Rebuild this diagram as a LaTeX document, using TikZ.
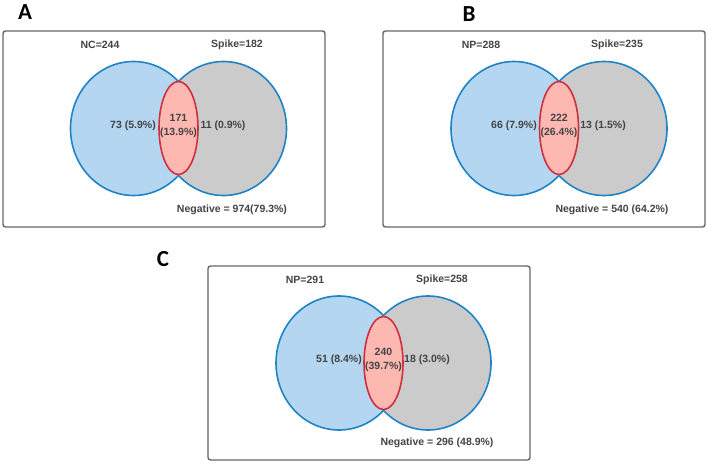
\documentclass[tikz,border=0pt]{standalone}
\usepackage{fontspec}
\setmainfont{Liberation Sans}
\newfontfamily\tagfont{Carlito}
\usetikzlibrary{shapes.geometric}

\definecolor{ncblue}{HTML}{B4D6F0}
\definecolor{ringblue}{HTML}{1F84C6}
\definecolor{spikegray}{HTML}{CBCBCB}
\definecolor{bothred}{HTML}{FDB8B2}
\definecolor{ringred}{HTML}{D02F3D}
\definecolor{boxgray}{HTML}{666666}
\definecolor{txtgray}{HTML}{444444}

\begin{document}
\begin{tikzpicture}[x=1pt,y=-1pt,
  panel/.style={draw=boxgray,line width=1.4pt,rounded corners=2.5pt},
  setA/.style={ellipse,fill=ncblue,draw=ringblue,line width=1.6pt,
    minimum width=126pt,minimum height=134pt,inner sep=0pt},
  setB/.style={setA,fill=spikegray},
  both/.style={ellipse,fill=bothred,draw=ringred,line width=1.6pt,
    minimum width=39pt,minimum height=93pt,inner sep=0pt},
  lbl/.style={font=\bfseries\fontsize{10.5}{14}\selectfont,text=txtgray,align=center,inner sep=1pt},
  tag/.style={font=\tagfont\bfseries\fontsize{23}{26}\selectfont,inner sep=0pt}]
  \useasboundingbox (0,0) rectangle (708,463);

  % panel A
  \node[tag] (tagA) at (25,12) {A};
  \begin{scope}[shift={(3,31)}]
    \draw[panel] (0,0) rectangle (322,196);
    \node[setA] (aLeft) at (130.5,97.5) {};
    \node[setB] (aRight) at (220.5,97.5) {};
    \node[both] (aBoth) at (175.5,97) {};
    \node[lbl] (aSetL) at (97,14) {NC=244};
    \node[lbl] (aSetR) at (234,14) {Spike=182};
    \node[lbl] (aOnlyL) at (130,95) {73 (5.9\%)};
    \node[lbl] (aMid) at (175.5,95) {171\\(13.9\%)};
    \node[lbl] (aOnlyR) at (220,95) {11 (0.9\%)};
    \node[lbl] (aNeg) at (229,179) {Negative = 974(79.3\%)};
  \end{scope}

  % panel B
  \node[tag] (tagB) at (469,14) {B};
  \begin{scope}[shift={(383,31)}]
    \draw[panel] (0,0) rectangle (322,196);
    \node[setA] (bLeft) at (131,97.5) {};
    \node[setB] (bRight) at (221,97.5) {};
    \node[both] (bBoth) at (176,97) {};
    \node[lbl] (bSetL) at (98,14) {NP=288};
    \node[lbl] (bSetR) at (234,14) {Spike=235};
    \node[lbl] (bOnlyL) at (131,95) {66 (7.9\%)};
    \node[lbl] (bMid) at (176,95) {222\\(26.4\%)};
    \node[lbl] (bOnlyR) at (220,95) {13 (1.5\%)};
    \node[lbl] (bNeg) at (229,179) {Negative = 540 (64.2\%)};
  \end{scope}

  % panel C
  \node[tag] (tagC) at (163,259) {C};
  \begin{scope}[shift={(208,266)}]
    \draw[panel] (0,0) rectangle (322,194);
    \node[setA] (cLeft) at (131,97) {};
    \node[setB] (cRight) at (220,97) {};
    \node[both] (cBoth) at (175.5,97) {};
    \node[lbl] (cSetL) at (97,14) {NP=291};
    \node[lbl] (cSetR) at (234,14) {Spike=258};
    \node[lbl] (cOnlyL) at (131,94) {51 (8.4\%)};
    \node[lbl] (cMid) at (175.5,94) {240\\(39.7\%)};
    \node[lbl] (cOnlyR) at (219,94) {18 (3.0\%)};
    \node[lbl] (cNeg) at (229,177) {Negative = 296 (48.9\%)};
  \end{scope}
\end{tikzpicture}
\end{document}
